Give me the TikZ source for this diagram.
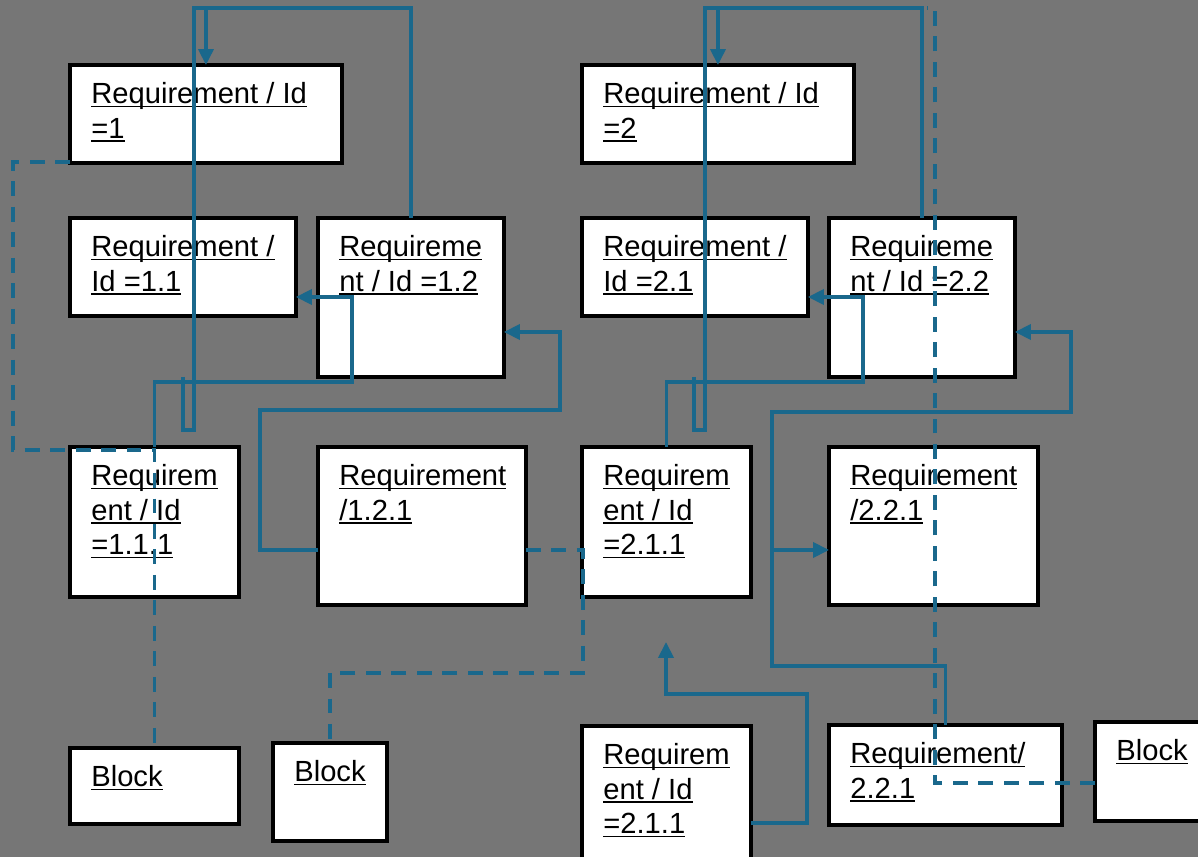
\documentclass[tikz,border=0pt]{standalone}
\usepackage{fontspec}
\setmainfont{Liberation Sans}
\usetikzlibrary{arrows.meta}

\definecolor{linkblue}{RGB}{26,104,140}
\definecolor{bggray}{RGB}{118,118,118}

% underlined line of a label, and a stack of such lines
\newcommand{\ulx}[1]{\setbox0=\hbox{#1}\rlap{\rule[-1.9pt]{\wd0}{0.85pt}}\box0}
\newcommand{\reqlines}[1]{\begin{tabular}[t]{@{}l@{}}#1\end{tabular}}

\begin{document}
\begin{tikzpicture}[x=0.02cm,y=-0.02cm,
    reqbox/.style={draw=black,line width=2.1pt,fill=white,anchor=north west,inner sep=0pt,outer sep=0pt},
    reqtext/.style={anchor=base west,inner sep=0pt,font=\fontsize{16.6}{19.6}\selectfont},
    link/.style={draw=linkblue,line width=2pt},
    arr/.style={link,-{Triangle[length=9pt,width=8.5pt]}},
    dlink/.style={link,dash pattern=on 8.5pt off 6pt}]
    \useasboundingbox (0,0) rectangle (1198,857);
    \fill[bggray] (0,0) rectangle (1198,857);
    \clip (0,0) rectangle (1198,857);

    % left group
    \node[reqbox,minimum width=5.44cm,minimum height=1.96cm] (r1) at (70,65) {};
    \node[reqbox,minimum width=4.52cm,minimum height=1.96cm] (r11) at (70,218) {};
    \node[reqbox,minimum width=3.72cm,minimum height=3.18cm] (r12) at (318,218) {};
    \node[reqbox,minimum width=3.38cm,minimum height=3.00cm] (r111) at (70,447) {};
    \node[reqbox,minimum width=4.16cm,minimum height=3.16cm] (r121) at (318,447) {};
    \node[reqbox,minimum width=3.38cm,minimum height=1.52cm] (b1) at (70,748) {};
    \node[reqbox,minimum width=2.28cm,minimum height=1.96cm] (b2) at (273,743) {};
    \node[reqtext] (r1t) at (91,104) {\reqlines{\ulx{Requirement / Id}\\\ulx{=1}}};
    \node[reqtext] (r11t) at (91,257) {\reqlines{\ulx{Requirement /}\\\ulx{Id =1.1}}};
    \node[reqtext] (r12t) at (339,257) {\reqlines{\ulx{Requireme}\\\ulx{nt / Id =1.2}}};
    \node[reqtext] (r111t) at (91,486) {\reqlines{\ulx{Requirem}\\\ulx{ent / Id}\\\ulx{=1.1.1}}};
    \node[reqtext] (r121t) at (339,486) {\reqlines{\ulx{Requirement}\\\ulx{/1.2.1}}};
    \node[reqtext] (b1t) at (91,787) {\ulx{Block}};
    \node[reqtext] (b2t) at (294,782) {\ulx{Block}};

    % right group
    \node[reqbox,minimum width=5.44cm,minimum height=1.96cm] (r2) at (582,65) {};
    \node[reqbox,minimum width=4.52cm,minimum height=1.96cm] (r21) at (582,218) {};
    \node[reqbox,minimum width=3.72cm,minimum height=3.18cm] (r22) at (829,218) {};
    \node[reqbox,minimum width=3.38cm,minimum height=3.00cm] (r211a) at (582,447) {};
    \node[reqbox,minimum width=4.18cm,minimum height=3.16cm] (r221a) at (829,447) {};
    \node[reqbox,minimum width=3.38cm,minimum height=3.00cm] (r211b) at (582,726) {};
    \node[reqbox,minimum width=4.66cm,minimum height=2.00cm] (r221b) at (829,725) {};
    \node[reqbox,minimum width=2.40cm,minimum height=1.98cm] (b3) at (1095,722) {};
    \node[reqtext] (r2t) at (603,104) {\reqlines{\ulx{Requirement / Id}\\\ulx{=2}}};
    \node[reqtext] (r21t) at (603,257) {\reqlines{\ulx{Requirement /}\\\ulx{Id =2.1}}};
    \node[reqtext] (r22t) at (850,257) {\reqlines{\ulx{Requireme}\\\ulx{nt / Id =2.2}}};
    \node[reqtext] (r211at) at (603,486) {\reqlines{\ulx{Requirem}\\\ulx{ent / Id}\\\ulx{=2.1.1}}};
    \node[reqtext] (r221at) at (850,486) {\reqlines{\ulx{Requirement}\\\ulx{/2.2.1}}};
    \node[reqtext] (r211bt) at (603,765) {\reqlines{\ulx{Requirem}\\\ulx{ent / Id}\\\ulx{=2.1.1}}};
    \node[reqtext] (r221bt) at (850,764) {\reqlines{\ulx{Requirement/}\\\ulx{2.2.1}}};
    \node[reqtext] (b3t) at (1116,761) {\ulx{Block}};

    % connectors, left
    \coordinate (top) at (0,8);
    \coordinate (s1) at (183,377);
    \draw[arr] (r12.north) -- (r12.north |- top) -| (r1.north);
    \draw[link] (s1) -- ++(0,53) -- ++(11,0) |- (r12.north |- top);
    \draw[arr] (r111.north) |- (352,382) |- (r11.east |- 0,297);
    \draw[arr] (r121.west |- 0,550) -| (260,410) -| (560,332) -- (r12.east |- 0,332);
    \draw[dlink] (r1.west |- 0,162) -| (13,450) -| (b1.north);
    \draw[dlink] (r121.east |- 0,550) -| (583,673) -| (b2.north);

    % connectors, right
    \coordinate (s2) at (694,377);
    \coordinate (j1) at (772,550);
    \coordinate (tip1) at (666,642);
    \coordinate (e1) at (927,8);
    \draw[arr] (r22.north) -- (r22.north |- top) -| (r2.north);
    \draw[link] (s2) -- ++(0,53) -- ++(11,0) |- (r22.north |- top);
    \draw[arr] (r211a.north) |- (863,382) |- (r21.east |- 0,297);
    \draw[arr] (r221b.north) |- (772,666) |- (1071,412) |- (r22.east |- 0,332);
    \draw[arr] (j1) -- (r221a.west |- j1);
    \draw[arr] (r211b.east |- 0,823) -| (807,694) -| (tip1);
    \draw[dlink] (b3.west |- 0,783) -| (935,8) -- (e1);
\end{tikzpicture}
\end{document}
